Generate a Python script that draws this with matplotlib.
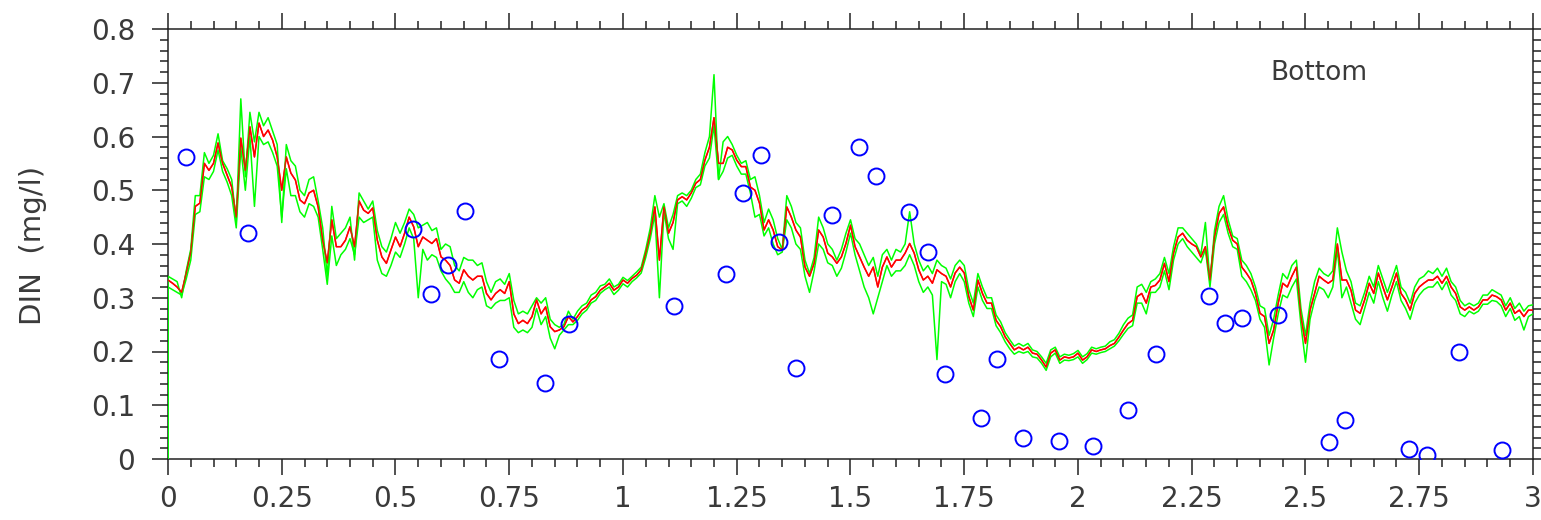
import numpy as np
import matplotlib
matplotlib.use("Agg")
import matplotlib.pyplot as plt
from matplotlib.ticker import MultipleLocator

# ---------------- data ----------------
x_days = np.round(np.arange(0, 301) * 0.01, 2)   # time axis, 0 .. 3 step 0.01

din_mid = [
 0.333,0.327,0.32,0.31,0.346,0.385,0.47,0.476,0.55,0.537,
 0.55,0.588,0.55,0.528,0.506,0.45,0.597,0.537,0.618,0.562,
 0.625,0.60,0.612,0.593,0.562,0.50,0.562,0.532,0.519,0.482,
 0.475,0.495,0.50,0.469,0.407,0.365,0.445,0.395,0.395,0.407,
 0.432,0.395,0.48,0.463,0.457,0.467,0.407,0.376,0.364,0.389,
 0.413,0.395,0.42,0.45,0.432,0.395,0.413,0.407,0.401,0.41,
 0.376,0.37,0.36,0.333,0.327,0.352,0.34,0.333,0.34,0.34,
 0.308,0.296,0.308,0.315,0.308,0.33,0.27,0.252,0.258,0.252,
 0.265,0.296,0.27,0.283,0.246,0.237,0.24,0.246,0.265,0.255,
 0.265,0.277,0.283,0.296,0.302,0.314,0.32,0.327,0.314,0.32,
 0.333,0.327,0.336,0.342,0.352,0.383,0.42,0.469,0.37,0.469,
 0.42,0.44,0.482,0.488,0.482,0.495,0.513,0.52,0.556,0.58,
 0.635,0.55,0.55,0.58,0.575,0.556,0.544,0.544,0.506,0.50,
 0.476,0.426,0.445,0.426,0.395,0.389,0.469,0.45,0.426,0.413,
 0.357,0.34,0.364,0.426,0.413,0.383,0.376,0.364,0.376,0.401,
 0.435,0.395,0.376,0.357,0.34,0.357,0.32,0.357,0.376,0.357,
 0.37,0.37,0.383,0.401,0.383,0.352,0.333,0.34,0.327,0.352,
 0.345,0.34,0.32,0.346,0.357,0.346,0.302,0.277,0.333,0.308,
 0.29,0.29,0.258,0.246,0.227,0.215,0.203,0.208,0.203,0.208,
 0.197,0.195,0.184,0.171,0.197,0.203,0.184,0.19,0.188,0.19,
 0.197,0.184,0.19,0.203,0.20,0.203,0.205,0.211,0.215,0.227,
 0.24,0.252,0.258,0.302,0.308,0.29,0.32,0.323,0.333,0.364,
 0.33,0.383,0.413,0.42,0.407,0.40,0.395,0.376,0.395,0.333,
 0.413,0.457,0.469,0.432,0.407,0.40,0.357,0.346,0.333,0.308,
 0.271,0.265,0.215,0.24,0.29,0.327,0.32,0.34,0.357,0.265,
 0.215,0.277,0.308,0.34,0.333,0.327,0.333,0.40,0.333,0.333,
 0.314,0.277,0.271,0.296,0.327,0.308,0.346,0.32,0.296,0.32,
 0.346,0.308,0.296,0.277,0.308,0.32,0.327,0.333,0.333,0.34,
 0.327,0.34,0.32,0.308,0.283,0.277,0.283,0.277,0.283,0.296,
 0.296,0.305,0.302,0.296,0.277,0.29,0.271,0.277,0.265,0.277,
 0.277]

din_g1 = [
 0.34,0.335,0.33,0.30,0.35,0.39,0.49,0.49,0.57,0.55,
 0.565,0.605,0.555,0.54,0.52,0.44,0.67,0.525,0.645,0.59,
 0.645,0.62,0.635,0.61,0.585,0.44,0.585,0.555,0.545,0.50,
 0.49,0.52,0.525,0.48,0.43,0.34,0.47,0.41,0.42,0.43,
 0.45,0.37,0.495,0.48,0.465,0.48,0.425,0.395,0.385,0.41,
 0.44,0.42,0.44,0.465,0.455,0.43,0.435,0.44,0.425,0.43,
 0.39,0.40,0.395,0.36,0.35,0.375,0.37,0.37,0.36,0.365,
 0.33,0.31,0.33,0.335,0.325,0.345,0.295,0.27,0.275,0.27,
 0.285,0.30,0.29,0.30,0.26,0.25,0.245,0.25,0.275,0.26,
 0.275,0.285,0.29,0.305,0.31,0.322,0.325,0.335,0.32,0.325,
 0.338,0.332,0.34,0.348,0.357,0.39,0.43,0.49,0.45,0.475,
 0.43,0.455,0.49,0.495,0.49,0.50,0.52,0.53,0.57,0.60,
 0.715,0.52,0.59,0.60,0.585,0.565,0.55,0.555,0.52,0.525,
 0.49,0.44,0.465,0.445,0.41,0.39,0.49,0.47,0.44,0.43,
 0.37,0.345,0.375,0.45,0.43,0.40,0.39,0.37,0.39,0.42,
 0.445,0.41,0.40,0.38,0.36,0.375,0.34,0.38,0.39,0.37,
 0.39,0.385,0.40,0.46,0.40,0.37,0.35,0.36,0.345,0.37,
 0.36,0.355,0.335,0.36,0.37,0.36,0.315,0.29,0.345,0.32,
 0.30,0.30,0.268,0.255,0.235,0.222,0.21,0.215,0.21,0.215,
 0.203,0.20,0.19,0.178,0.203,0.208,0.19,0.195,0.193,0.196,
 0.202,0.19,0.196,0.208,0.205,0.208,0.21,0.218,0.222,0.234,
 0.25,0.262,0.268,0.32,0.325,0.31,0.33,0.335,0.345,0.375,
 0.345,0.395,0.43,0.43,0.42,0.41,0.40,0.38,0.44,0.33,
 0.425,0.47,0.49,0.445,0.415,0.41,0.37,0.36,0.345,0.32,
 0.285,0.28,0.23,0.26,0.305,0.345,0.335,0.36,0.37,0.28,
 0.23,0.29,0.33,0.355,0.345,0.34,0.35,0.43,0.385,0.35,
 0.33,0.29,0.285,0.31,0.34,0.32,0.36,0.335,0.31,0.335,
 0.36,0.32,0.31,0.29,0.32,0.335,0.34,0.35,0.345,0.355,
 0.34,0.355,0.33,0.32,0.295,0.285,0.29,0.285,0.29,0.305,
 0.305,0.315,0.31,0.305,0.285,0.30,0.28,0.29,0.275,0.285,
 0.287]

din_g2 = [
 0.32,0.315,0.31,0.305,0.335,0.37,0.455,0.46,0.525,0.52,
 0.535,0.575,0.535,0.515,0.49,0.43,0.58,0.50,0.60,0.47,
 0.60,0.585,0.59,0.57,0.545,0.45,0.54,0.49,0.49,0.46,
 0.45,0.475,0.47,0.45,0.39,0.325,0.415,0.36,0.38,0.39,
 0.41,0.38,0.45,0.44,0.445,0.45,0.37,0.345,0.34,0.36,
 0.385,0.375,0.40,0.43,0.41,0.30,0.39,0.37,0.38,0.375,
 0.35,0.335,0.325,0.31,0.31,0.33,0.31,0.30,0.315,0.32,
 0.285,0.28,0.29,0.295,0.295,0.30,0.245,0.235,0.24,0.235,
 0.245,0.28,0.25,0.265,0.225,0.205,0.23,0.24,0.25,0.25,
 0.258,0.27,0.277,0.29,0.295,0.308,0.315,0.32,0.306,0.314,
 0.326,0.32,0.33,0.337,0.346,0.375,0.41,0.455,0.30,0.46,
 0.41,0.39,0.475,0.48,0.47,0.485,0.505,0.51,0.545,0.56,
 0.62,0.52,0.535,0.56,0.565,0.545,0.53,0.53,0.495,0.45,
 0.455,0.415,0.43,0.40,0.38,0.385,0.445,0.43,0.40,0.39,
 0.34,0.31,0.35,0.40,0.39,0.365,0.36,0.34,0.355,0.385,
 0.42,0.38,0.35,0.32,0.30,0.27,0.30,0.33,0.36,0.34,
 0.35,0.35,0.36,0.38,0.36,0.33,0.31,0.32,0.305,0.185,
 0.33,0.325,0.30,0.33,0.345,0.33,0.29,0.265,0.32,0.295,
 0.28,0.28,0.248,0.235,0.218,0.205,0.195,0.20,0.197,0.20,
 0.19,0.188,0.178,0.165,0.19,0.197,0.178,0.184,0.183,0.185,
 0.19,0.178,0.185,0.197,0.195,0.198,0.20,0.205,0.21,0.22,
 0.232,0.243,0.248,0.29,0.29,0.27,0.31,0.31,0.32,0.35,
 0.315,0.37,0.40,0.41,0.395,0.385,0.375,0.365,0.39,0.32,
 0.40,0.44,0.455,0.42,0.395,0.39,0.34,0.33,0.315,0.295,
 0.26,0.245,0.175,0.225,0.27,0.305,0.30,0.32,0.335,0.25,
 0.18,0.26,0.295,0.32,0.315,0.30,0.32,0.39,0.30,0.32,
 0.29,0.26,0.25,0.28,0.31,0.29,0.33,0.30,0.275,0.305,
 0.33,0.295,0.28,0.26,0.29,0.305,0.315,0.32,0.32,0.33,
 0.315,0.33,0.305,0.295,0.27,0.265,0.275,0.27,0.275,0.288,
 0.288,0.295,0.293,0.285,0.265,0.28,0.258,0.265,0.24,0.265,
 0.27]

obs_x = [0.04, 0.176, 0.538, 0.578, 0.615, 0.653, 0.727, 0.829, 0.881, 1.112,
         1.226, 1.264, 1.303, 1.343, 1.38, 1.459, 1.519, 1.556, 1.629, 1.67,
         1.708, 1.787, 1.822, 1.879, 1.958, 2.033, 2.11, 2.171, 2.288, 2.323,
         2.36, 2.44, 2.552, 2.587, 2.727, 2.767, 2.837, 2.932]
obs_y = [0.562, 0.42, 0.428, 0.307, 0.361, 0.461, 0.186, 0.141, 0.251, 0.285,
         0.344, 0.495, 0.566, 0.404, 0.169, 0.454, 0.58, 0.527, 0.46, 0.385,
         0.158, 0.076, 0.186, 0.039, 0.033, 0.024, 0.091, 0.195, 0.303, 0.253,
         0.262, 0.268, 0.032, 0.073, 0.019, 0.007, 0.2, 0.017]

x_ticks = [0, 0.25, 0.5, 0.75, 1, 1.25, 1.5, 1.75, 2, 2.25, 2.5, 2.75, 3]
x_ticklabels = ["0", "0.25", "0.5", "0.75", "1", "1.25", "1.5", "1.75",
                "2", "2.25", "2.5", "2.75", "3"]
y_ticks = [0, 0.1, 0.2, 0.3, 0.4, 0.5, 0.6, 0.7, 0.8]
y_ticklabels = ["0", "0.1", "0.2", "0.3", "0.4", "0.5", "0.6", "0.7", "0.8"]

# ---------------- plot ----------------
plt.rcParams['font.family'] = ['DejaVu Sans']
W, H = 1541, 520
fig = plt.figure(figsize=(W / 100, H / 100), dpi=100)
ax = fig.add_axes([168 / W, 1 - 459 / H, (1533 - 168) / W, (459 - 29) / H])

xs = np.r_[0.0, x_days]
ax.plot(x_days, din_mid, color='#ff0000', lw=1.1, zorder=2)
ax.plot(xs, np.r_[0.0, din_g1], color='#00ff00', lw=1.1, zorder=3)
ax.plot(xs, np.r_[0.0, din_g2], color='#00ff00', lw=1.1, zorder=3)
ax.plot(x_days, din_mid, color='#ff0000', lw=1.0, zorder=4, alpha=0.85)
ax.plot(obs_x, obs_y, linestyle='none', marker='o', ms=11.5, mfc='none',
        mec='#0000ff', mew=1.4, zorder=5)

ax.set_xlim(0, 3)
ax.set_ylim(0, 0.8)
ax.set_xticks(x_ticks)
ax.set_xticklabels(x_ticklabels)
ax.set_yticks(y_ticks)
ax.set_yticklabels(y_ticklabels)
ax.xaxis.set_minor_locator(MultipleLocator(0.05))
ax.yaxis.set_minor_locator(MultipleLocator(0.02))

tc = '#3a3a3a'
ax.tick_params(axis='both', which='major', direction='out', length=11.5, width=1.1,
               color='#222222', labelsize=20, labelcolor=tc,
               top=True, right=True)
ax.tick_params(axis='both', which='minor', direction='out', length=5.8, width=1.1,
               color='#222222', top=True, right=True)
ax.tick_params(axis='x', which='major', pad=7)
ax.tick_params(axis='y', which='major', pad=12)
for sp in ax.spines.values():
    sp.set_linewidth(1.1)
    sp.set_color('#222222')

ax.text(2.53, 0.718, "Bottom", fontsize=19, color=tc, ha='center', va='center')
fig.text(33 / W, 1 - 245 / H, "DIN  (mg/l)", rotation=90, fontsize=21,
         color=tc, ha='center', va='center')

fig.savefig("out.png", dpi=100)
